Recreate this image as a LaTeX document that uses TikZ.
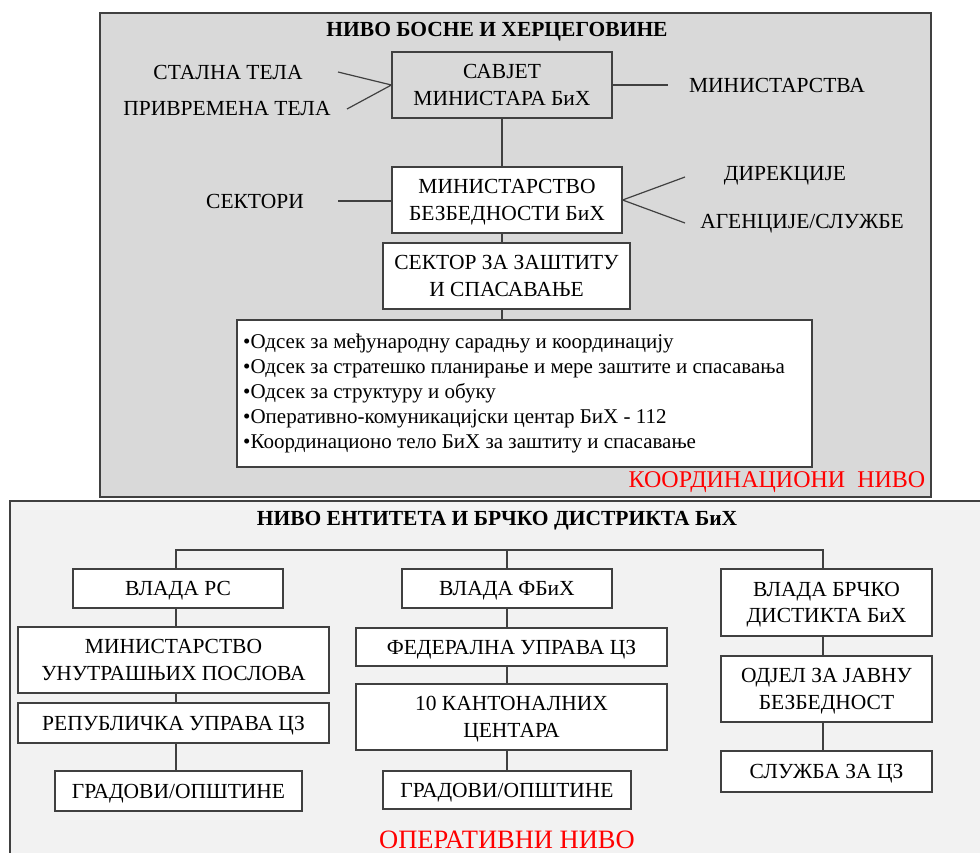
\documentclass[tikz,border=0pt]{standalone}
\usepackage{fontspec}
\setmainfont{Liberation Serif}
\definecolor{panelA}{HTML}{D9D9D9}
\definecolor{panelB}{HTML}{F2F2F2}
\definecolor{edge}{HTML}{404040}
\begin{document}
\begin{tikzpicture}[x=1pt,y=-1pt,
  every node/.style={inner sep=0pt},
  txt/.style={font=\fontsize{21.5}{26}\selectfont, align=center},
  ttl/.style={font=\bfseries\fontsize{21.5}{26}\selectfont},
  box/.style={draw=edge, line width=1.2pt, fill=white, align=center,
    text depth=0pt, font=\fontsize{21.5}{26.5}\selectfont},
  conn/.style={draw=edge, line width=1.2pt},
  lvl/.style={text=red}]
\useasboundingbox (0,0) rectangle (980,852);
% panels
\path[fill=panelA, draw=edge, line width=1.2pt] (100,13) rectangle (931,497);
\path[fill=panelB, draw=edge, line width=1.2pt] (10,501) rectangle (990,870);

% ---------- top level ----------
\node[ttl] (t1) at (497,32) {НИВО БОСНЕ И ХЕРЦЕГОВИНЕ};
\node[box, fill=panelA, minimum width=220pt, minimum height=66pt] (sav) at (502,85) {САВЈЕТ\\МИНИСТАРА БиХ};
\node[box, minimum width=230pt, minimum height=66pt] (minb) at (507,200) {МИНИСТАРСТВО\\БЕЗБЕДНОСТИ БиХ};
\node[box, minimum width=247pt, minimum height=66pt] (sek) at (506.5,276) {СЕКТОР ЗА ЗАШТИТУ\\И СПАСАВАЊЕ};
\node[box, minimum width=575pt, minimum height=147pt] (list) at (524.5,393.5) {};
\node[anchor=west, align=left, font=\fontsize{21}{25.2}\selectfont] (listtxt) at (243,393.5)
 {•Одсек за међународну сарадњу и координацију\\
  •Одсек за стратешко планирање и мере заштите и спасавања\\
  •Одсек за структуру и обуку\\
  •Оперативно-комуникацијски центар БиХ - 112\\
  •Координационо тело БиХ за заштиту и спасавање};

\node[txt] (stal) at (228,72) {СТАЛНА ТЕЛА};
\node[txt] (priv) at (227,109) {ПРИВРЕМЕНА ТЕЛА};
\node[txt] (mins) at (777,85) {МИНИСТАРСТВА};
\node[txt] (sekt) at (255,201) {СЕКТОРИ};
\node[txt] (dir) at (785,176) {ДИРЕКЦИЈЕ};
\node[txt] (agen) at (802,224) {АГЕНЦИЈЕ/СЛУЖБЕ};

\coordinate (cStal) at (338,72);
\coordinate (cPriv) at (347,109);
\coordinate (cMins) at (668,85);
\coordinate (cSekt) at (338,201);
\coordinate (cDir) at (685,177);
\coordinate (cAgen) at (685,223);

\draw[conn] (cStal) -- (sav.west) -- (cPriv);
\draw[conn] (sav.east) -- (cMins);
\draw[conn] (cSekt) -- (cSekt -| minb.west);
\draw[conn] (cDir) -- (minb.east) -- (cAgen);
\draw[conn] (sav.south) -- (sav.south |- minb.north);
\draw[conn] (sav.south |- minb.south) -- (sav.south |- sek.north);
\draw[conn] (sav.south |- sek.south) -- (sav.south |- list.north);

\node[lvl, font=\fontsize{24}{28}\selectfont] (koord) at (777,482) {КООРДИНАЦИОНИ\ \ НИВО};

% ---------- bottom level ----------
\node[ttl] (t2) at (497,521) {НИВО ЕНТИТЕТА И БРЧКО ДИСТРИКТА БиХ};

\node[box, minimum width=210pt, minimum height=39pt] (vrs) at (178,588.5) {ВЛАДА РС};
\node[box, minimum width=311pt, minimum height=66pt] (mup) at (173.5,660) {МИНИСТАРСТВО\\УНУТРАШЊИХ ПОСЛОВА};
\node[box, minimum width=311pt, minimum height=40pt] (rup) at (173.5,723) {РЕПУБЛИЧКА УПРАВА ЦЗ};
\node[box, minimum width=247pt, minimum height=40pt] (grl) at (178.5,791) {ГРАДОВИ/ОПШТИНЕ};

\node[box, minimum width=210pt, minimum height=39pt] (vfb) at (507,588.5) {ВЛАДА ФБиХ};
\node[box, minimum width=311pt, minimum height=38pt] (fed) at (511.5,647) {ФЕДЕРАЛНА УПРАВА ЦЗ};
\node[box, minimum width=311pt, minimum height=66pt] (kan) at (511.5,717) {10 КАНТОНАЛНИХ\\ЦЕНТАРА};
\node[box, minimum width=248pt, minimum height=38pt] (grm) at (507,790) {ГРАДОВИ/ОПШТИНЕ};

\node[box, minimum width=211pt, minimum height=67pt] (vbr) at (826.5,602.5) {ВЛАДА БРЧКО\\ДИСТИКТА БиХ};
\node[box, minimum width=211pt, minimum height=66pt] (odj) at (826.5,689) {ОДЈЕЛ ЗА ЈАВНУ\\БЕЗБЕДНОСТ};
\node[box, minimum width=211pt, minimum height=41pt] (slz) at (826.5,771.5) {СЛУЖБА ЗА ЦЗ};

\coordinate (busL) at (176,550);
\coordinate (busR) at (823,550);
\draw[conn] (busL |- vrs.north) -- (busL) -- (busR) -- (busR |- vbr.north);
\draw[conn] (vfb.north) -- (vfb.north |- busL);

\draw[conn] (busL |- vrs.south) -- (busL |- mup.north);
\draw[conn] (busL |- mup.south) -- (busL |- rup.north);
\draw[conn] (busL |- rup.south) -- (busL |- grl.north);

\draw[conn] (vfb.south) -- (vfb.south |- fed.north);
\draw[conn] (vfb.south |- fed.south) -- (vfb.south |- kan.north);
\draw[conn] (vfb.south |- kan.south) -- (vfb.south |- grm.north);

\draw[conn] (busR |- vbr.south) -- (busR |- odj.north);
\draw[conn] (busR |- odj.south) -- (busR |- slz.north);

\node[lvl, font=\fontsize{26.5}{30}\selectfont] (oper) at (507,840) {ОПЕРАТИВНИ НИВО};
\end{tikzpicture}
\end{document}
